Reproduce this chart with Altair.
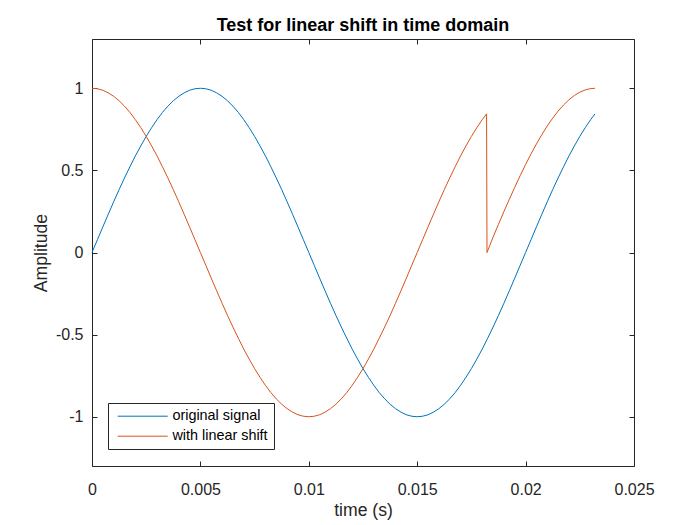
import altair as alt
import pandas as pd

FONT = "Liberation Sans"
INK = "#262626"

SERIES = ["original signal", "with linear shift"]
COLORS = ["#0072BD", "#D95319"]

X_TICKS = [0, 0.005, 0.01, 0.015, 0.02, 0.025]
Y_TICKS = [-1, -0.5, 0, 0.5, 1]

# sample times in milliseconds
T_GRID_MS = [0, 0.25, 0.5, 0.75, 1, 1.25, 1.5, 1.75, 2, 2.25, 2.5, 2.75,
             3, 3.25, 3.5, 3.75, 4, 4.25, 4.5, 4.75, 5, 5.25, 5.5, 5.75,
             6, 6.25, 6.5, 6.75, 7, 7.25, 7.5, 7.75, 8, 8.25, 8.5, 8.75,
             9, 9.25, 9.5, 9.75, 10, 10.25, 10.5, 10.75, 11, 11.25, 11.5, 11.75,
             12, 12.25, 12.5, 12.75, 13, 13.25, 13.5, 13.75, 14, 14.25, 14.5, 14.75,
             15, 15.25, 15.5, 15.75, 16, 16.25, 16.5, 16.75, 17, 17.25, 17.5, 17.75,
             18, 18.25, 18.5, 18.75, 19, 19.25, 19.5, 19.75, 20, 20.25, 20.5, 20.75,
             21, 21.25, 21.5, 21.75, 22, 22.25, 22.5, 22.75, 23]

ORIGINAL_T_MS = T_GRID_MS + [23.2]
ORIGINAL = [0, 0.078, 0.156, 0.233, 0.309, 0.383, 0.454, 0.522, 0.588, 0.649, 0.707,
            0.760, 0.809, 0.853, 0.891, 0.924, 0.951, 0.972, 0.988, 0.997, 1.0,
            0.997, 0.988, 0.972, 0.951, 0.924, 0.891, 0.853, 0.809, 0.760, 0.707,
            0.649, 0.588, 0.522, 0.454, 0.383, 0.309, 0.233, 0.156, 0.078, 0,
            -0.078, -0.156, -0.233, -0.309, -0.383, -0.454, -0.522, -0.588, -0.649, -0.707,
            -0.760, -0.809, -0.853, -0.891, -0.924, -0.951, -0.972, -0.988, -0.997, -1.0,
            -0.997, -0.988, -0.972, -0.951, -0.924, -0.891, -0.853, -0.809, -0.760, -0.707,
            -0.649, -0.588, -0.522, -0.454, -0.383, -0.309, -0.233, -0.156, -0.078, 0,
            0.078, 0.156, 0.233, 0.309, 0.383, 0.454, 0.522, 0.588, 0.649, 0.707,
            0.760, 0.809,
            0.844]

SHIFTED_T_MS = T_GRID_MS[:73] + [18.2, 18.22] + T_GRID_MS[74:] + [23.2]
SHIFTED = [1.0, 0.997, 0.988, 0.972, 0.951, 0.924, 0.891, 0.853, 0.809, 0.760, 0.707,
           0.649, 0.588, 0.522, 0.454, 0.383, 0.309, 0.233, 0.156, 0.078, 0,
           -0.078, -0.156, -0.233, -0.309, -0.383, -0.454, -0.522, -0.588, -0.649, -0.707,
           -0.760, -0.809, -0.853, -0.891, -0.924, -0.951, -0.972, -0.988, -0.997, -1.0,
           -0.997, -0.988, -0.972, -0.951, -0.924, -0.891, -0.853, -0.809, -0.760, -0.707,
           -0.649, -0.588, -0.522, -0.454, -0.383, -0.309, -0.233, -0.156, -0.078, 0,
           0.078, 0.156, 0.233, 0.309, 0.383, 0.454, 0.522, 0.588, 0.649, 0.707,
           0.760, 0.809,
           0.844, 0,
           0.094, 0.172, 0.249, 0.324, 0.397, 0.468, 0.536, 0.600, 0.661, 0.718,
           0.771, 0.818, 0.861, 0.898, 0.930, 0.956, 0.976, 0.990, 0.998,
           1.0]

df = pd.concat([
    pd.DataFrame({"t": [v / 1000 for v in ORIGINAL_T_MS], "v": ORIGINAL, "series": SERIES[0]}),
    pd.DataFrame({"t": [v / 1000 for v in SHIFTED_T_MS], "v": SHIFTED, "series": SERIES[1]}),
], ignore_index=True)
df["idx"] = range(len(df))

xscale = alt.Scale(domain=[0, 0.025], nice=False, zero=False)
yscale = alt.Scale(domain=[-1.3, 1.3], nice=False, zero=False)

common_axis = dict(domain=False, grid=False, ticks=True, tickSize=5, tickWidth=1,
                   tickColor=INK, offset=-5, labelFlush=False, labelOverlap=False)

lines = alt.Chart(df).mark_line(strokeWidth=1).encode(
    x=alt.X("t:Q", scale=xscale, axis=alt.Axis(
        orient="bottom", values=X_TICKS, labelExpr="'' + datum.value",
        labelPadding=15, labelFont=FONT, labelFontSize=16, labelColor=INK,
        title="time (s)", titleFont=FONT, titleFontSize=17.6, titleFontWeight="normal",
        titleColor=INK, titleBaseline="alphabetic", titleY=54, **common_axis)),
    y=alt.Y("v:Q", scale=yscale, axis=alt.Axis(
        orient="left", values=Y_TICKS, labelExpr="'' + datum.value",
        labelPadding=9, labelFont=FONT, labelFontSize=16, labelColor=INK,
        title="Amplitude", titleFont=FONT, titleFontSize=17.6, titleFontWeight="normal",
        titleColor=INK, titleBaseline="alphabetic", titleX=-51, **common_axis)),
    color=alt.Color("series:N", scale=alt.Scale(domain=SERIES, range=COLORS),
                    legend=alt.Legend(
                        title=None, orient="none", legendX=16, legendY=364,
                        symbolType="M-3,0H17", symbolSize=25, symbolStrokeWidth=1,
                        symbolFillColor="transparent",
                        labelFont=FONT, labelFontSize=14.4, labelColor="black",
                        padding=6, symbolOffset=4, labelOffset=40,
                        strokeColor=INK, fillColor="white", cornerRadius=0,
                        rowPadding=5)),
    order=alt.Order("idx:Q"),
)

frame_ticks = alt.Chart(df).mark_line(opacity=0).encode(
    x=alt.X("t:Q", scale=xscale, axis=alt.Axis(
        orient="top", values=X_TICKS, labels=False, title=None, **common_axis)),
    y=alt.Y("v:Q", scale=yscale, axis=alt.Axis(
        orient="right", values=Y_TICKS, labels=False, title=None, **common_axis)),
    detail="series:N",
)

chart = alt.layer(lines, frame_ticks).resolve_axis(
    x="independent", y="independent"
).properties(
    width=542, height=427,
    autosize="none",
    padding={"left": 92, "top": 39, "right": 66, "bottom": 59},
    background="white",
    title=alt.TitleParams("Test for linear shift in time domain", font=FONT,
                          fontSize=18, fontWeight="bold", color="black",
                          baseline="alphabetic", offset=-10, frame="group",
                          anchor="middle"),
).configure_view(stroke=INK, strokeWidth=1)

chart.save("out.html", embed_options={"renderer": "svg", "actions": False})
